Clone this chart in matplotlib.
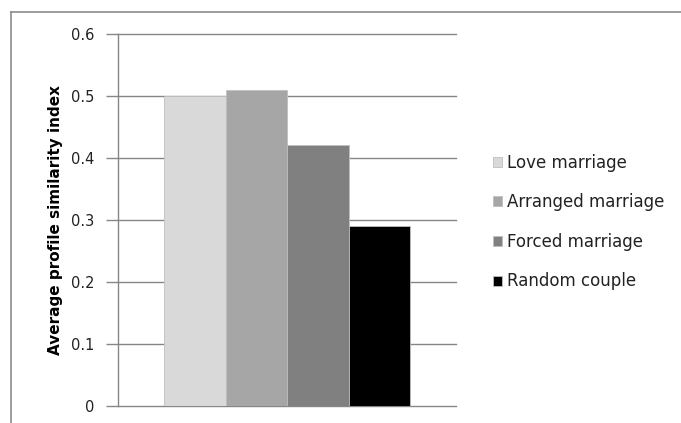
import numpy as np
import matplotlib.pyplot as plt
from matplotlib.lines import Line2D

categories = ['Love marriage', 'Arranged marriage', 'Forced marriage', 'Random couple']
values = [0.50, 0.51, 0.42, 0.29]
colors = ['#D9D9D9', '#A6A6A6', '#808080', '#000000']
yticks = [0, 0.1, 0.2, 0.3, 0.4, 0.5, 0.6]
ytick_labels = ['0', '0.1', '0.2', '0.3', '0.4', '0.5', '0.6']

plt.rcParams['font.family'] = ['DejaVu Sans']

W, H = 681, 423
fig = plt.figure(figsize=(W / 100, H / 100), dpi=100)

# axes box in pixel units: left spine x=118, right end of grid x=456, 0.6 at y=34, 0 at y=405.5
left, right, top, bottom = 118, 456, 34, 405.5
ax = fig.add_axes([left / W, 1 - bottom / H, (right - left) / W, (bottom - top) / H])

grid_col = '#868686'
bar_w = 61.5 / (right - left)
x0 = 0.5 - 2 * bar_w + bar_w / 2
for i, (cat, v, c) in enumerate(zip(categories, values, colors)):
    ax.bar(x0 + i * bar_w, v, width=bar_w, color=c, edgecolor='#BFBFBF',
           linewidth=0.6, label=cat, zorder=3)

ax.set_xlim(0, 1)
ax.set_ylim(0, 0.6)
ax.set_yticks(yticks)
ax.set_yticklabels(ytick_labels, fontsize=10.5, color='#222222')
ax.set_xticks([])
ax.yaxis.grid(True, color=grid_col, linewidth=1.0, zorder=0)
for gl in ax.get_ygridlines():
    gl.set_clip_on(False)
ax.tick_params(axis='y', length=9, width=1.0, color=grid_col, pad=8)
for side in ['top', 'right', 'bottom']:
    ax.spines[side].set_visible(False)
ax.spines['left'].set_color(grid_col)
ax.spines['left'].set_linewidth(1.0)
ax.set_ylabel('Average profile similarity index', fontsize=11, fontweight='bold',
              labelpad=6)

leg = ax.legend(loc='center left', bbox_to_anchor=(478 / W, 1 - 222 / H),
                bbox_transform=fig.transFigure, frameon=False, fontsize=12,
                handlelength=0.55, handleheight=0.55, handletextpad=0.3,
                labelspacing=1.3)
for t in leg.get_texts():
    t.set_color('#222222')

# outer chart-area border (top and left edges only fall inside the image)
fig.add_artist(Line2D([11 / W, 1], [1 - 12 / H, 1 - 12 / H],
                      transform=fig.transFigure, color='#8C8C8C', lw=1.2))
fig.add_artist(Line2D([11 / W, 11 / W], [0, 1 - 12 / H],
                      transform=fig.transFigure, color='#8C8C8C', lw=1.2))

fig.savefig('out.png', dpi=100)
